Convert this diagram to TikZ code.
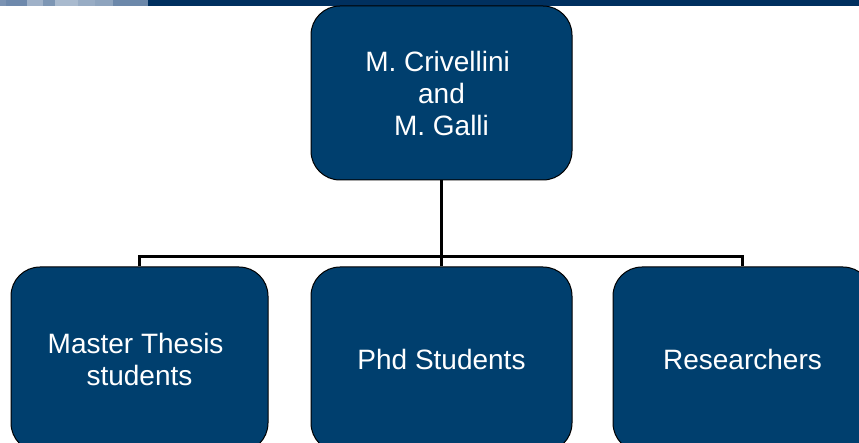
\documentclass[tikz,border=0pt]{standalone}
\usepackage{fontspec}
\setmainfont{Liberation Sans}
\definecolor{boxblue}{HTML}{003F6E}
\definecolor{bardark}{HTML}{00305F}
\definecolor{sA}{HTML}{7B93B3}
\definecolor{sB}{HTML}{6E89AC}
\definecolor{sC}{HTML}{9FB1C8}
\definecolor{sD}{HTML}{7D96B4}
\definecolor{sE}{HTML}{A9BACE}
\definecolor{sF}{HTML}{98ACC4}
\definecolor{sG}{HTML}{8EA4BE}
\definecolor{sH}{HTML}{6C88AA}
\begin{document}
\begin{tikzpicture}[x=1pt,y=-1pt,
  box/.style={draw=black, line width=1pt, fill=boxblue, rounded corners=29pt,
    minimum height=185pt, text=white, font=\fontsize{28}{32}\selectfont,
    align=center, inner sep=0pt},
  link/.style={draw=black, line width=2.8pt, line join=miter}]
\useasboundingbox (0,0) rectangle (859,443);
\clip (0,0) rectangle (859,443);
% top bar
\fill[bardark] (148,0) rectangle (859,6.5);
\fill[sA] (0,0) rectangle (6,6.5);
\fill[sB] (6,0) rectangle (27,6.5);
\fill[sC] (27,0) rectangle (43,6.5);
\fill[sD] (43,0) rectangle (55,6.5);
\fill[sE] (55,0) rectangle (78,6.5);
\fill[sF] (78,0) rectangle (95,6.5);
\fill[sG] (95,0) rectangle (113,6.5);
\fill[sH] (113,0) rectangle (148,6.5);
% boxes
\node[box, minimum width=261pt, minimum height=174pt] (top) at (441.5,93) {M. Crivellini\kern7.8pt\\and\\M. Galli};
\node[box, minimum width=257pt] (left) at (139.5,359.5) {Master Thesis\kern7.8pt\\students};
\node[box, minimum width=261pt] (mid) at (441.5,359.5) {Phd Students};
\node[box, minimum width=259pt] (right) at (742.5,359.5) {Researchers};
% connectors
\coordinate (j) at (441.5,256.5);
\draw[link] (top.south) -- (top.south |- j);
\draw[link] (left.north) -- (left.north |- j) -| (right.north);
\draw[link] (mid.north) -- (mid.north |- j);
\end{tikzpicture}
\end{document}
